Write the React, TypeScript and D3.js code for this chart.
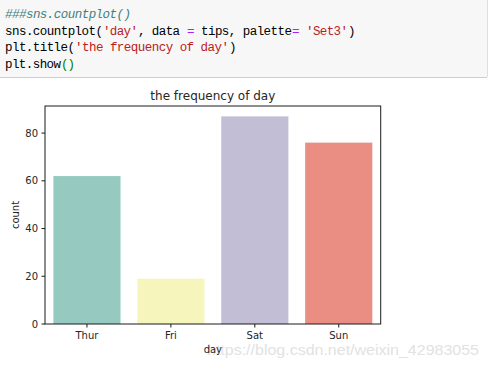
import React from "react";
import * as d3 from "d3";

const days = ["Thur", "Fri", "Sat", "Sun"];
const counts = [62, 19, 87, 76];
const colors = ["#96cac1", "#f6f6bc", "#c1bed6", "#ea8d83"];
const yTicks = [0, 20, 40, 60, 80];

type Tok = { t: string; c: string; i?: boolean };
const codeLines: Tok[][] = [
  [{ t: "###sns.countplot()", c: "#408080", i: true }],
  [
    { t: "sns.countplot(", c: "#000" },
    { t: "'day'", c: "#ba2121" },
    { t: ", data ", c: "#000" },
    { t: "=", c: "#aa22ff" },
    { t: " tips, palette", c: "#000" },
    { t: "=", c: "#aa22ff" },
    { t: " ", c: "#000" },
    { t: "'Set3'", c: "#ba2121" },
    { t: ")", c: "#000" },
  ],
  [
    { t: "plt.title(", c: "#000" },
    { t: "'the frequency of day'", c: "#ba2121" },
    { t: ")", c: "#000" },
  ],
  [
    { t: "plt.show", c: "#000" },
    { t: "()", c: "#008000" },
  ],
];

export default function App() {
  const W = 489, H = 368;
  const left = 45, right = 380.7, top = 106, bottom = 324;
  const x = d3.scaleBand<string>().domain(days).range([left, right]).paddingInner(0.2).paddingOuter(0.1);
  const y = d3.scaleLinear().domain([0, d3.max(counts)! * 1.05]).range([bottom, top]);
  const font = "'DejaVu Sans', sans-serif";
  const txt = "#262626";
  const cx = (left + right) / 2;
  return (
    <div style={{ position: "absolute", left: 0, top: 0 }}>
      <svg width={W} height={H} style={{ display: "block" }}>
        <rect x={0} y={0} width={W} height={H} fill="#fff" />
        <rect x={0} y={0} width={487} height={77} fill="#f7f7f7" />
        <line x1={0} x2={487} y1={77.5} y2={77.5} stroke="#cfcfcf" />
        <line x1={487.5} x2={487.5} y1={0} y2={77} stroke="#e0e0e0" />
        {codeLines.map((line, li) => {
          let col = 0;
          return (
            <text key={li} y={18 + li * 16.5} fontFamily="'Liberation Mono', monospace" fontSize={12.5} xmlSpace="preserve">
              {line.map((tk, ti) => {
                const xx = 5 + col * 7;
                col += tk.t.length;
                return (
                  <tspan key={ti} x={xx} fill={tk.c} fontStyle={tk.i ? "italic" : "normal"} textLength={tk.t.length * 7} lengthAdjust="spacing">
                    {tk.t}
                  </tspan>
                );
              })}
            </text>
          );
        })}

        {days.map((d, i) => (
          <rect key={d} x={x(d)} width={x.bandwidth()} y={y(counts[i])} height={y(0) - y(counts[i])} fill={colors[i]} />
        ))}

        <rect x={left} y={top} width={right - left} height={bottom - top} fill="none" stroke="#1a1a1a" strokeWidth={1} />

        {yTicks.map((t) => (
          <g key={t}>
            <line x1={left - 3.5} x2={left} y1={y(t)} y2={y(t)} stroke="#1a1a1a" />
            <text x={left - 7} y={y(t)} dy="0.35em" textAnchor="end" fontFamily={font} fontSize={10} fill={txt}>
              {t}
            </text>
          </g>
        ))}
        {days.map((d) => {
          const px = x(d)! + x.bandwidth() / 2;
          return (
            <g key={d}>
              <line x1={px} x2={px} y1={bottom} y2={bottom + 3.5} stroke="#1a1a1a" />
              <text x={px} y={339} textAnchor="middle" fontFamily={font} fontSize={10} fill={txt}>
                {d}
              </text>
            </g>
          );
        })}
        <text x={cx} y={100} textAnchor="middle" fontFamily={font} fontSize={12} fill={txt}>
          the frequency of day
        </text>
        <text x={207} y={355} fontFamily="'Liberation Sans', Arial, sans-serif" fontSize={15} fill="#e2e2e2" textLength={272} lengthAdjust="spacingAndGlyphs">
          https://blog.csdn.net/weixin_42983055
        </text>
        <text x={cx} y={353} textAnchor="middle" fontFamily={font} fontSize={10} fill={txt}>
          day
        </text>
        <text transform={`translate(19,${(top + bottom) / 2}) rotate(-90)`} textAnchor="middle" fontFamily={font} fontSize={10} fill={txt}>
          count
        </text>
      </svg>
    </div>
  );
}
